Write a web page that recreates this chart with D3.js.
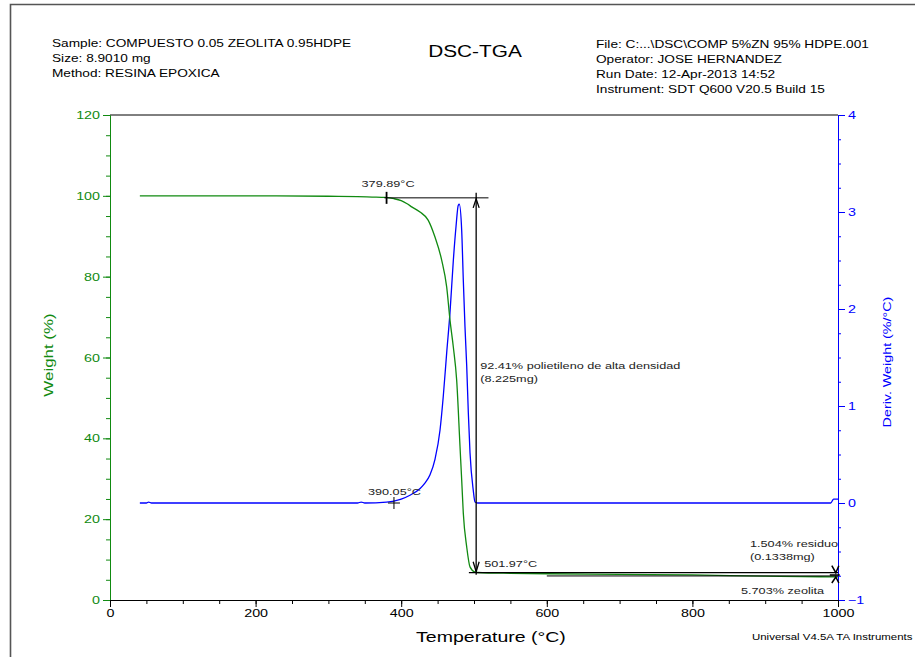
<!DOCTYPE html>
<html><head><meta charset="utf-8">
<script src="https://cdn.jsdelivr.net/npm/d3@7"></script>
<style>
body{margin:0;background:#fff;}
svg{display:block;font-family:"Liberation Sans",Arial,sans-serif;}
</style></head>
<body><svg id="c" width="915" height="657"></svg>
<script>
// ---- data ----
const headerLeft = ["Sample: COMPUESTO 0.05 ZEOLITA 0.95HDPE", "Size:  8.9010 mg", "Method: RESINA EPOXICA"];
const headerRight = ["File: C:...\\DSC\\COMP 5%ZN 95% HDPE.001", "Operator: JOSE HERNANDEZ", "Run Date: 12-Apr-2013 14:52", "Instrument: SDT Q600 V20.5 Build 15"];
const title = "DSC-TGA";
const tempTicks = [0, 200, 400, 600, 800, 1000];
const weightTicks = [0, 20, 40, 60, 80, 100, 120];
const derivTicks = [-1, 0, 1, 2, 3, 4];
// TGA weight curve (temperature °C, weight %)
const weightT = [41, 100, 200, 300, 340, 360, 378, 390, 400, 407.5, 415, 425.8, 437, 446.4, 455.6, 462.5, 467, 471.6, 476.2, 480.8, 483.1, 485.3, 490, 494.5, 501.4, 505, 550, 600, 700, 800, 900, 950, 1000];
const weightW = [100, 100, 100, 99.9, 99.8, 99.7, 99.6, 99.3, 98.8, 98.1, 97.2, 96.0, 94.0, 89.8, 84.1, 77.4, 69.3, 62.6, 54.4, 37.9, 29.7, 21.5, 13.1, 8.2, 6.9, 6.8, 6.6, 6.5, 6.35, 6.2, 5.9, 5.8, 5.7];
// DTG derivative curve (temperature °C, %/°C)
const derivT = [41, 50, 53, 57, 100, 200, 300, 340, 345, 350, 380, 390, 400, 412, 426, 432, 439.6, 446.4, 453.3, 457.8, 462.5, 467, 471.6, 475.3, 478.4, 479.8, 483.1, 485.3, 487.6, 490, 492.2, 494.5, 499, 501.4, 505, 600, 800, 990, 994, 1000];
const derivD = [0.0, 0.0, 0.01, 0.0, 0.0, 0.0, 0.0, 0.0, 0.01, 0.0, 0.01, 0.02, 0.04, 0.08, 0.15, 0.2, 0.29, 0.45, 0.75, 1.1, 1.55, 1.96, 2.5, 2.85, 3.07, 3.08, 2.81, 2.30, 1.82, 1.41, 0.93, 0.52, 0.13, 0.01, 0.0, 0.0, 0.0, 0.0, 0.04, 0.04];
// annotations
const onsetT = 379.89, onsetW = 99.5;
const endT = 501.97, endW = 6.75;
const dtgOnsetT = 390.05;
const stepLabel = ["92.41% polietileno de alta densidad", "(8.225mg)"];
const residueLabel = ["1.504% residuo", "(0.1338mg)"];
const zeoLabel = "5.703% zeolita";
const footer = "Universal V4.5A TA Instruments";

// ---- drawing ----
const svg = d3.select("#c");
const GREEN = "#118a11", BLUE = "#0000ff", STRETCH = 1.3;
const x = d3.scaleLinear().domain([0, 1000]).range([110, 838]);
const yW = d3.scaleLinear().domain([0, 120]).range([600, 115]);
const yD = d3.scaleLinear().domain([-1, 4]).range([600, 115]);

function stretch(sel) {
  sel.each(function () {
    const w = this.getComputedTextLength();
    this.setAttribute("textLength", w * STRETCH);
    this.setAttribute("lengthAdjust", "spacingAndGlyphs");
  });
  return sel;
}
function txt(s, px, py, size, opts = {}) {
  const t = svg.append("text").attr("x", px).attr("y", py).attr("font-size", size)
    .attr("fill", opts.fill || "#000").attr("text-anchor", opts.anchor || "start").text(s);
  if (opts.rotate) t.attr("transform", `rotate(-90,${px},${py})`);
  stretch(t);
  return t;
}

// frame
svg.append("path").attr("d", "M10.5,657 V4.5 H915").attr("fill", "none").attr("stroke", "#555").attr("stroke-width", 1.6);

// header
headerLeft.forEach((s, i) => txt(s, 52, 47 + i * 15, 10.5));
headerRight.forEach((s, i) => txt(s, 596, 48 + i * 15, 10.5));
txt(title, 475, 57, 16, { anchor: "middle" });

// top border
svg.append("line").attr("x1", x(0)).attr("x2", x(1000)).attr("y1", yW(120)).attr("y2", yW(120)).attr("stroke", "#000");

// axes
function styleAxis(g, color) {
  g.selectAll("path,line").attr("stroke", color);
  g.selectAll("text").attr("fill", color).attr("font-family", "Liberation Sans, Arial, sans-serif");
}
const minorW = d3.range(0, 121, 5), minorD = d3.range(-1, 4.01, 0.25), minorT = d3.range(0, 1001, 50);
let g = svg.append("g").attr("transform", `translate(${x(0)},0)`)
  .call(d3.axisLeft(yW).tickValues(minorW).tickSize(4).tickFormat("").tickSizeOuter(0));
styleAxis(g, GREEN);
g = svg.append("g").attr("transform", `translate(${x(0)},0)`)
  .call(d3.axisLeft(yW).tickValues(weightTicks).tickSize(7).tickPadding(3).tickFormat(d3.format("d")).tickSizeOuter(0));
styleAxis(g, GREEN);
g.selectAll("text").attr("font-size", 11).call(stretch);

g = svg.append("g").attr("transform", `translate(${x(1000)},0)`)
  .call(d3.axisRight(yD).tickValues(minorD).tickSize(3).tickFormat("").tickSizeOuter(0));
styleAxis(g, BLUE);
g = svg.append("g").attr("transform", `translate(${x(1000)},0)`)
  .call(d3.axisRight(yD).tickValues(derivTicks).tickSize(7).tickPadding(3).tickFormat(d3.format("d")).tickSizeOuter(0));
styleAxis(g, BLUE);
g.selectAll("text").attr("font-size", 11).call(stretch);

g = svg.append("g").attr("transform", `translate(0,${yW(0)})`)
  .call(d3.axisBottom(x).tickValues(minorT).tickSize(4).tickFormat("").tickSizeOuter(0));
styleAxis(g, "#000");
g = svg.append("g").attr("transform", `translate(0,${yW(0)})`)
  .call(d3.axisBottom(x).tickValues(tempTicks).tickSize(7).tickPadding(2).tickFormat(d3.format("d")).tickSizeOuter(0));
styleAxis(g, "#000");
g.selectAll("text").attr("font-size", 11).call(stretch);

// axis titles
txt("Weight (%)", 53, 355, 13, { fill: GREEN, anchor: "middle", rotate: true });
txt("Deriv. Weight (%/°C)", 891, 362, 11, { fill: BLUE, anchor: "middle", rotate: true });
txt("Temperature (°C)", 491, 642, 15, { anchor: "middle" });
txt(footer, 752, 640, 8.8);

// curves
const lineW = d3.line().x(d => x(d[0])).y(d => yW(d[1])).curve(d3.curveMonotoneX);
const lineD = d3.line().x(d => x(d[0])).y(d => yD(d[1])).curve(d3.curveMonotoneX);
svg.append("path").datum(derivT.map((t, i) => [t, derivD[i]])).attr("d", lineD)
  .attr("fill", "none").attr("stroke", BLUE).attr("stroke-width", 1.3);
svg.append("path").datum(weightT.map((t, i) => [t, weightW[i]])).attr("d", lineW)
  .attr("fill", "none").attr("stroke", GREEN).attr("stroke-width", 1.3);

// annotations
const ann = svg.append("g").attr("stroke", "#000").attr("fill", "none").attr("stroke-width", 1);
const vx = x(endT + 1);
ann.append("line").attr("x1", x(onsetT - 3)).attr("x2", x(onsetT + 140)).attr("y1", yW(onsetW)).attr("y2", yW(onsetW));
ann.append("line").attr("x1", x(onsetT)).attr("x2", x(onsetT)).attr("y1", yW(onsetW) - 6).attr("y2", yW(onsetW) + 6).attr("stroke-width", 1.8);
ann.append("line").attr("x1", vx).attr("x2", vx).attr("y1", yW(onsetW) - 5).attr("y2", yW(endW) + 2).attr("stroke-width", 1.3);
ann.append("path").attr("d", `M${vx - 3},${yW(onsetW) + 10} L${vx},${yW(onsetW) + 1} L${vx + 3},${yW(onsetW) + 10}`).attr("stroke-width", 1.3);
ann.append("path").attr("d", `M${vx - 3},${yW(endW) - 11} L${vx},${yW(endW) - 1} L${vx + 3},${yW(endW) - 11}`).attr("stroke-width", 1.3);
ann.append("line").attr("x1", x(endT - 9)).attr("x2", x(1000)).attr("y1", yW(endW)).attr("y2", yW(endW)).attr("stroke-width", 1.2);
ann.append("line").attr("x1", x(600)).attr("x2", x(1000)).attr("y1", yW(5.95)).attr("y2", yW(5.95)).attr("stroke-width", 1);
// residue arrows at right end
const rx = x(997);
ann.append("path").attr("d", `M${rx - 4},${yW(endW) - 7} L${rx},${yW(endW)} L${rx + 3},${yW(endW) - 7} M${rx - 4},${yW(5.7) + 6} L${rx},${yW(5.7)} L${rx + 3},${yW(5.7) + 6} M${rx - 6},${yW(6.2)} H${rx + 4}`).attr("stroke-width", 1.5);
// DTG onset cross
const cx = x(dtgOnsetT), cy = yD(0);
ann.append("path").attr("d", `M${cx - 6},${cy} H${cx + 6} M${cx},${cy - 6} V${cy + 6}`);

const AF = 9.75, AC = "#222";
txt(onsetT.toFixed(2) + "°C", x(onsetT) - 25, 187, AF, { fill: AC });
txt(dtgOnsetT.toFixed(2) + "°C", cx - 26, 495, AF, { fill: AC });
txt(endT.toFixed(2) + "°C", vx + 8, 567, AF, { fill: AC });
stepLabel.forEach((s, i) => txt(s, vx + 4, 369 + i * 13, AF, { fill: AC }));
residueLabel.forEach((s, i) => txt(s, 750, 547 + i * 13, AF, { fill: AC }));
txt(zeoLabel, 741, 594, AF, { fill: AC });
</script></body></html>
